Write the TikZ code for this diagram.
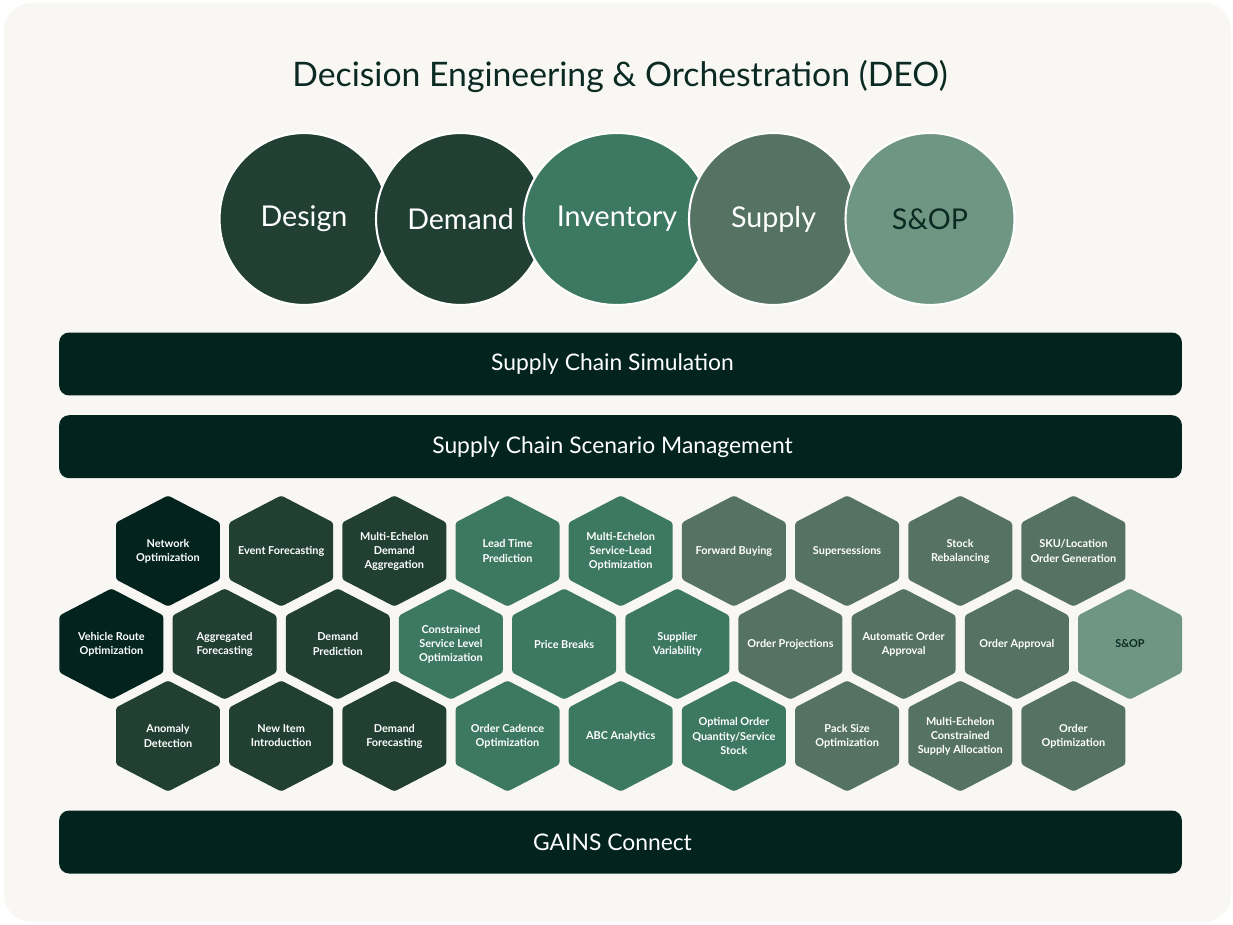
\documentclass[tikz,border=0pt]{standalone}
\usepackage{fontspec}
\setmainfont{Lato}
\usepackage{tikz}
\usetikzlibrary{shapes.geometric}
\usetikzlibrary{positioning}
\definecolor{deobg}{HTML}{F8F7F3}
\definecolor{deoink}{HTML}{0B2A23}
\definecolor{deonight}{HTML}{03241E}
\definecolor{deoforest}{HTML}{213F33}
\definecolor{deojade}{HTML}{3D7862}
\definecolor{deomoss}{HTML}{557262}
\definecolor{deosage}{HTML}{6E9682}
\newcommand{\bandpad}{\hspace*{0.32cm}}
\tikzset{every text node part/.style={align=center}}
\tikzset{
  focus/.style={ellipse, fill=#1, draw=white, line width=1.2pt, minimum width=3.38cm, minimum height=3.44cm,
    text=white, font=\fontsize{16.3}{19}\selectfont},
  band/.style={rounded corners=0.2cm, fill=deonight, minimum width=22.46cm, minimum height=1.26cm,
    text=white, font=\fontsize{13}{15}\selectfont},
  hexcell/.style={minimum width=2.08cm, minimum height=2.22cm, inner sep=0pt, outer sep=0pt, text=white,
    font=\bfseries\fontsize{6.2}{8}\selectfont,
    path picture={\fill[#1, rounded corners=1.5pt]
      (path picture bounding box.north)
      -- ([yshift=0.57cm]path picture bounding box.east) -- ([yshift=-0.57cm]path picture bounding box.east)
      -- (path picture bounding box.south)
      -- ([yshift=-0.57cm]path picture bounding box.west) -- ([yshift=0.57cm]path picture bounding box.west)
      -- cycle;}},
}

\begin{document}
\begin{tikzpicture}[x=0.02cm, y=-0.02cm]
    % Canvas
    \fill[white] (0,0) rectangle (1233,925);
    \fill[deobg, rounded corners=0.55cm] (4,3) rectangle (1231,922);

    % Title
    \node[anchor=base, text=deoink, font=\fontsize{19.2}{23}\selectfont] (title) at (620,87)
        {Decision Engineering \& Orchestration (DEO)};

    % Circles
    \node[focus=deoforest] (design) at (304,219) {Design};
    \node[focus=deoforest] (demand) at (460.5,219) {Demand};
    \node[focus=deojade] (inventory) at (617,219) {Inventory};
    \node[focus=deomoss] (supply) at (773.5,219) {Supply};
    \node[focus=deosage, text=deoink] (sop) at (930,219) {S\&OP};

    % Bars (labels sit a little left of centre)
    \node[band] (simulation) at (620.5,364) {Supply Chain Simulation\bandpad};
    \node[band, below=0.38cm of simulation] (scenario) {Supply Chain Scenario Management\bandpad};
    \node[band] (connect) at (620.5,842) {GAINS Connect\bandpad};

    % Hexagons, top row
    \node[hexcell=deonight] (netopt) at (168,551) {Network\\Optimization};
    \node[hexcell=deoforest, right=0.184cm of netopt] (eventfc) {Event Forecasting};
    \node[hexcell=deoforest, right=0.184cm of eventfc] (medemand) {Multi-Echelon\\Demand\\Aggregation};
    \node[hexcell=deojade, right=0.184cm of medemand] (leadtime) {Lead Time\\Prediction};
    \node[hexcell=deojade, right=0.184cm of leadtime] (meservice) {Multi-Echelon\\Service-Lead\\Optimization};
    \node[hexcell=deomoss, right=0.184cm of meservice] (fwdbuy) {Forward Buying};
    \node[hexcell=deomoss, right=0.184cm of fwdbuy] (supersede) {Supersessions};
    \node[hexcell=deomoss, right=0.184cm of supersede] (rebalance) {Stock\\Rebalancing};
    \node[hexcell=deomoss, right=0.184cm of rebalance] (skuorder) {SKU/Location\\Order Generation};

    % Hexagons, middle row
    \node[hexcell=deonight] (vehicle) at (111.4,644) {Vehicle Route\\Optimization};
    \node[hexcell=deoforest, right=0.184cm of vehicle] (aggfc) {Aggregated\\Forecasting};
    \node[hexcell=deoforest, right=0.184cm of aggfc] (dempred) {Demand\\Prediction};
    \node[hexcell=deojade, right=0.184cm of dempred] (cslopt) {Constrained\\Service Level\\Optimization};
    \node[hexcell=deojade, right=0.184cm of cslopt] (pricebrk) {Price Breaks};
    \node[hexcell=deojade, right=0.184cm of pricebrk] (suppvar) {Supplier\\Variability};
    \node[hexcell=deomoss, right=0.184cm of suppvar] (orderproj) {Order Projections};
    \node[hexcell=deomoss, right=0.184cm of orderproj] (autoappr) {Automatic Order\\Approval};
    \node[hexcell=deomoss, right=0.184cm of autoappr] (orderappr) {Order Approval};
    \node[hexcell=deosage, text=deoink, right=0.184cm of orderappr] (sophex) {S\&OP};

    % Hexagons, bottom row
    \node[hexcell=deoforest] (anomaly) at (168,736) {Anomaly\\Detection};
    \node[hexcell=deoforest, right=0.184cm of anomaly] (newitem) {New Item\\Introduction};
    \node[hexcell=deoforest, right=0.184cm of newitem] (demfc) {Demand\\Forecasting};
    \node[hexcell=deojade, right=0.184cm of demfc] (cadence) {Order Cadence\\Optimization};
    \node[hexcell=deojade, right=0.184cm of cadence] (abc) {ABC Analytics};
    \node[hexcell=deojade, right=0.184cm of abc] (optqty) {Optimal Order\\Quantity/Service\\Stock};
    \node[hexcell=deomoss, right=0.184cm of optqty] (packsize) {Pack Size\\Optimization};
    \node[hexcell=deomoss, right=0.184cm of packsize] (mealloc) {Multi-Echelon\\Constrained\\Supply Allocation};
    \node[hexcell=deomoss, right=0.184cm of mealloc] (orderopt) {Order\\Optimization};
\end{tikzpicture}
\end{document}
